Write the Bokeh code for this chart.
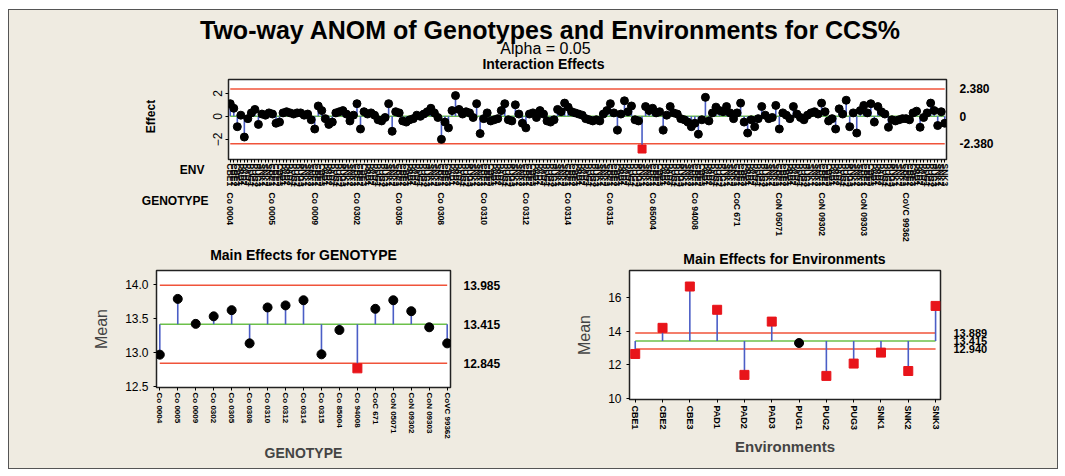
from math import pi
from bokeh.plotting import figure
from bokeh.models import Range1d, LinearAxis, FixedTicker, PrintfTickFormatter
from bokeh.layouts import column, row
from bokeh.embed import file_html
from bokeh.resources import INLINE
from bokeh.core.properties import value

# ---------------- data ----------------
genotypes = ["Co 0004", "Co 0005", "Co 0009", "Co 0302", "Co 0305", "Co 0308", "Co 0310",
             "Co 0312", "Co 0314", "Co 0315", "Co 85004", "Co 94008", "CoC 671",
             "CoN 05071", "CoN 09302", "CoN 09303", "CoVC 99362"]
environments = ["CBE1", "CBE2", "CBE3", "PAD1", "PAD2", "PAD3",
                "PUG1", "PUG2", "PUG3", "SNK1", "SNK2", "SNK3"]

genotype_means = [12.97, 13.785, 13.42, 13.53, 13.62, 13.135, 13.66, 13.69, 13.765,
                  12.975, 13.33, 12.77, 13.64, 13.765, 13.605, 13.37, 13.135]
env_means = [12.65, 14.2, 16.65, 15.27, 11.41, 14.57, 13.3, 11.35, 12.08, 12.73, 11.64, 15.5]

interaction_effects = [
    1.1, 0.7, -0.9, 0.1, -1.8, -0.2, 0.3, 0.6, -0.7, 0.2, 0.1, 0.3,
    0.2, -0.6, -0.5, 0.3, 0.4, 0.3, 0.2, 0.3, 0.3, 0.1, 0.2, -0.3,
    -1.1, 0.9, 0.5, -0.2, -0.7, -0.5, 0.3, 0.4, 0.5, 0.2, -0.4, 0.1,
    1.1, -1.1, 0.4, 0.2, 0.3, 0.1, -0.3, -0.4, -0.1, 1.1, -1.3, 0.4,
    0.3, -0.4, -0.5, -0.3, -0.2, 0.1, 0.0, 0.2, 0.4, 0.7, 0.3, -0.1,
    -2.0, -0.5, -1.0, 0.5, 1.8, 0.6, 0.2, 0.4, 0.3, -0.1, 1.1, -1.5,
    -0.2, 0.3, -0.4, -0.3, -0.2, 0.5, 1.1, -0.3, -0.4, 1.0, 0.2, -0.6,
    -1.0, 0.2, 0.3, -0.1, 0.5, 0.2, -0.4, -0.5, -0.3, 0.6, 0.4, 1.15,
    0.8, 0.4, 0.3, 0.2, 0.1, -0.2, -0.3, -0.4, -0.3, -0.4, 0.2, 0.5,
    1.1, 0.3, -1.2, 0.2, 1.35, 0.4, 0.9, -0.3, -0.4, -2.84, 0.85, 0.5,
    0.7, 0.3, 0.4, -1.2, 0.1, 0.85, 0.3, 0.2, -0.2, -0.3, -0.5, -0.9,
    -0.6, -1.55, -0.3, 1.65, -0.4, 0.3, 0.8, 0.5, 0.4, 0.85, 0.3, -0.2,
    0.3, 1.15, -0.5, -1.45, -0.3, -0.9, -0.2, 0.85, 0.1, -0.2, -0.1, 0.95,
    -1.1, 0.3, 0.1, -0.2, 0.85, 0.2, -0.1, -0.3, 0.1, 0.3, 0.4, 0.2,
    1.15, 0.4, -0.4, -0.2, -1.1, 0.65, 0.2, 1.4, -0.9, 0.3, -1.45, 0.5,
    0.95, 0.3, 1.1, -0.5, 0.85, 0.4, 0.2, -0.95, -0.3, -0.4, -0.3, -0.2,
    -0.2, -0.3, 0.3, 0.45, -0.95, -0.1, 0.3, 1.15, 0.5, -0.8, 0.4, -0.6,
]

interaction_limits = [-2.380, 0.0, 2.380]
genotype_limits = [12.845, 13.415, 13.985]
env_limits = [12.940, 13.415, 13.889]

title_text = "Two-way ANOM of Genotypes and Environments for CCS%"
alpha_text = "Alpha = 0.05"

# ---------------- style ----------------
BG = "#EFEBE1"
RED = "#F0533A"
GREEN = "#6CC04A"
BLUE = "#4B5EC6"
PT_RED = "#E8141A"
FONT = "Liberation Sans"


def no_align(p):
    try:
        p.frame_align = False
    except Exception:
        pass


def text_canvas(w, h):
    p = figure(width=w, height=h, x_range=Range1d(0, w), y_range=Range1d(h, 0),
               output_backend="svg", toolbar_location=None, min_border=0, title=None,
               x_axis_location=None, y_axis_location=None)
    p.grid.visible = False
    p.outline_line_color = None
    p.background_fill_color = BG
    p.border_fill_color = BG
    no_align(p)
    return p


def put_text(p, x, y, text, size, bold=False, align="center", angle=0.0):
    p.text(x=[x], y=[y], text=[text], text_font=value(FONT), text_font_size=size,
           text_font_style="bold" if bold else "normal", text_align=align,
           text_baseline="middle", text_color="black", angle=angle)


def base_fig(w, h, fl, fr, ft, fb, xr, yr):
    p = figure(width=w, height=h, x_range=Range1d(*xr), y_range=Range1d(*yr),
               output_backend="svg", toolbar_location=None, title=None,
               min_border_left=fl, min_border_right=w - fr,
               min_border_top=ft, min_border_bottom=h - fb)
    p.background_fill_color = "white"
    p.border_fill_color = BG
    p.outline_line_color = "#222222"
    p.outline_line_width = 1.5
    p.xgrid.visible = False
    p.ygrid.visible = False
    no_align(p)
    return p


def style_axis(ax, size="10px", bold=False):
    ax.major_label_text_font = FONT
    ax.major_label_text_font_size = size
    ax.major_label_text_font_style = "bold" if bold else "normal"
    ax.major_label_text_color = "black"
    ax.axis_line_color = None
    ax.minor_tick_line_color = None
    ax.major_tick_line_color = "black"
    ax.major_tick_in = 0
    ax.major_tick_out = 3


def draw_anom(p, xs, vals, limits, msize):
    lcl, center, ucl = limits
    n0, n1 = xs[0], xs[-1]
    p.segment(x0=[n0, n0], y0=[lcl, ucl], x1=[n1, n1], y1=[lcl, ucl], line_color=RED, line_width=1.5)
    p.segment(x0=[n0], y0=[center], x1=[n1], y1=[center], line_color=GREEN, line_width=1.5)
    p.segment(x0=xs, y0=[center] * len(xs), x1=xs, y1=vals, line_color=BLUE, line_width=1.6)
    inx = [x for x, v in zip(xs, vals) if lcl <= v <= ucl]
    inv = [v for v in vals if lcl <= v <= ucl]
    outx = [x for x, v in zip(xs, vals) if not (lcl <= v <= ucl)]
    outv = [v for v in vals if not (lcl <= v <= ucl)]
    p.scatter(inx, inv, marker="circle", size=msize, fill_color="black", line_color="black")
    p.scatter(outx, outv, marker="square", size=msize, fill_color=PT_RED, line_color=PT_RED)


def right_limits_axis(p, limits, labels, size="11px", standoff=10):
    ax = LinearAxis(ticker=FixedTicker(ticks=limits),
                    major_label_overrides=dict(zip(limits, labels)))
    style_axis(ax, size, bold=True)
    ax.major_tick_line_color = None
    ax.major_label_standoff = standoff
    p.add_layout(ax, "right")


# ---------------- title strip ----------------
TW, TH = 1048, 62
pt = text_canvas(TW, TH)
put_text(pt, 541, 19, title_text, "25px", bold=True)
put_text(pt, 536, 38, alpha_text, "16px")
put_text(pt, 534, 53, "Interaction Effects", "14px", bold=True)

# ---------------- left strip with row titles ----------------
LW, LH = 200, 174
pl = text_canvas(LW, LH)
put_text(pl, 141, 44, "Effect", "12px", bold=True, angle=pi / 2)
put_text(pl, 195, 97, "ENV", "12px", bold=True, align="right")
put_text(pl, 199, 128, "GENOTYPE", "12px", bold=True, align="right")

# ---------------- top: interaction effects ----------------
W1, H1 = 848, 174
FL1, FR1, FT1, FB1 = 19, 737, 7, 87
n_int = len(interaction_effects)
p1 = base_fig(W1, H1, FL1, FR1, FT1, FB1, (0.5, n_int + 0.5), (-3.75, 3.2))
xs1 = list(range(1, n_int + 1))
draw_anom(p1, xs1, interaction_effects, interaction_limits, 8)

env_row = [e for g in genotypes for e in environments]
ax_env = p1.xaxis[0]
ax_env.ticker = FixedTicker(ticks=xs1)
ax_env.major_label_overrides = {x: lab for x, lab in zip(xs1, env_row)}
style_axis(ax_env, "8.5px", bold=True)
ax_env.major_label_orientation = "vertical"
ax_env.major_label_standoff = 1

geno_ticks = [1 + len(environments) * k for k in range(len(genotypes))]
ax_gen = LinearAxis(ticker=FixedTicker(ticks=geno_ticks),
                    major_label_overrides={t: g for t, g in zip(geno_ticks, genotypes)})
style_axis(ax_gen, "8.5px", bold=True)
ax_gen.major_tick_line_color = None
ax_gen.major_tick_out = 0
ax_gen.major_label_orientation = "vertical"
ax_gen.major_label_standoff = 3
p1.add_layout(ax_gen, "below")

ay1 = p1.yaxis[0]
ay1.ticker = FixedTicker(ticks=[-2, 0, 2])
style_axis(ay1, "12px")
ay1.major_label_orientation = "vertical"
ay1.major_label_standoff = 3
right_limits_axis(p1, interaction_limits, ["-2.380", "0", "2.380"], "12px", 10)

# ---------------- strip with the two panel titles ----------------
SH = 22
ps = text_canvas(TW, SH)
put_text(ps, 294, 8, "Main Effects for GENOTYPE", "14px", bold=True)
put_text(ps, 775, 12, "Main Effects for Environments", "14px", bold=True)

# ---------------- bottom-left: genotype main effects ----------------
W2, H2 = 531, 200
FL2, FR2, FT2, FB2 = 147, 441, 2, 119
p2 = base_fig(W2, H2, FL2, FR2, FT2, FB2, (0.816, len(genotypes) + 0.184), (12.49, 14.2))
xs2 = list(range(1, len(genotypes) + 1))
draw_anom(p2, xs2, genotype_means, genotype_limits, 9)

ax2 = p2.xaxis[0]
ax2.ticker = FixedTicker(ticks=xs2)
ax2.major_label_overrides = {x: g for x, g in zip(xs2, genotypes)}
style_axis(ax2, "8px", bold=True)
ax2.major_label_orientation = "vertical"
ax2.major_label_standoff = 2
ax2.axis_label = "GENOTYPE"
ax2.axis_label_text_font = FONT
ax2.axis_label_text_font_size = "14px"
ax2.axis_label_text_font_style = "bold"
ax2.axis_label_standoff = 3

ay2 = p2.yaxis[0]
ay2.ticker = FixedTicker(ticks=[12.5, 13.0, 13.5, 14.0])
ay2.formatter = PrintfTickFormatter(format="%.1f")
style_axis(ay2, "12px")
ay2.axis_label = "Mean"
ay2.axis_label_text_font = FONT
ay2.axis_label_text_font_size = "16px"
ay2.axis_label_text_font_style = "normal"
ay2.axis_label_standoff = 12
right_limits_axis(p2, genotype_limits, ["12.845", "13.415", "13.985"], "12px", 10)

# ---------------- bottom-right: environment main effects ----------------
W3, H3 = 517, 200
FL3, FR3, FT3, FB3 = 89, 400, 2, 131
p3 = base_fig(W3, H3, FL3, FR3, FT3, FB3, (0.79, len(environments) + 0.18), (9.95, 17.6))
xs3 = list(range(1, len(environments) + 1))
draw_anom(p3, xs3, env_means, env_limits, 9)

ax3 = p3.xaxis[0]
ax3.ticker = FixedTicker(ticks=xs3)
ax3.major_label_overrides = {x: e for x, e in zip(xs3, environments)}
style_axis(ax3, "9px", bold=True)
ax3.major_label_orientation = "vertical"
ax3.major_label_standoff = 3
ax3.axis_label = "Environments"
ax3.axis_label_text_font = FONT
ax3.axis_label_text_font_size = "15px"
ax3.axis_label_text_font_style = "bold"
ax3.axis_label_standoff = 5

ay3 = p3.yaxis[0]
ay3.ticker = FixedTicker(ticks=[10, 12, 14, 16])
style_axis(ay3, "12px")
ay3.axis_label = "Mean"
ay3.axis_label_text_font = FONT
ay3.axis_label_text_font_size = "16px"
ay3.axis_label_text_font_style = "normal"
ay3.axis_label_standoff = 12
right_limits_axis(p3, env_limits, ["12.940", "13.415", "13.889"], "11px", 10)

layout = column(pt, row(pl, p1), ps, row(p2, p3),
                styles={"border": "1px solid #555555", "background-color": BG,
                        "margin-left": "8px", "margin-top": "9px"})

with open("out.html", "w") as f:
    f.write(file_html(layout, INLINE))
